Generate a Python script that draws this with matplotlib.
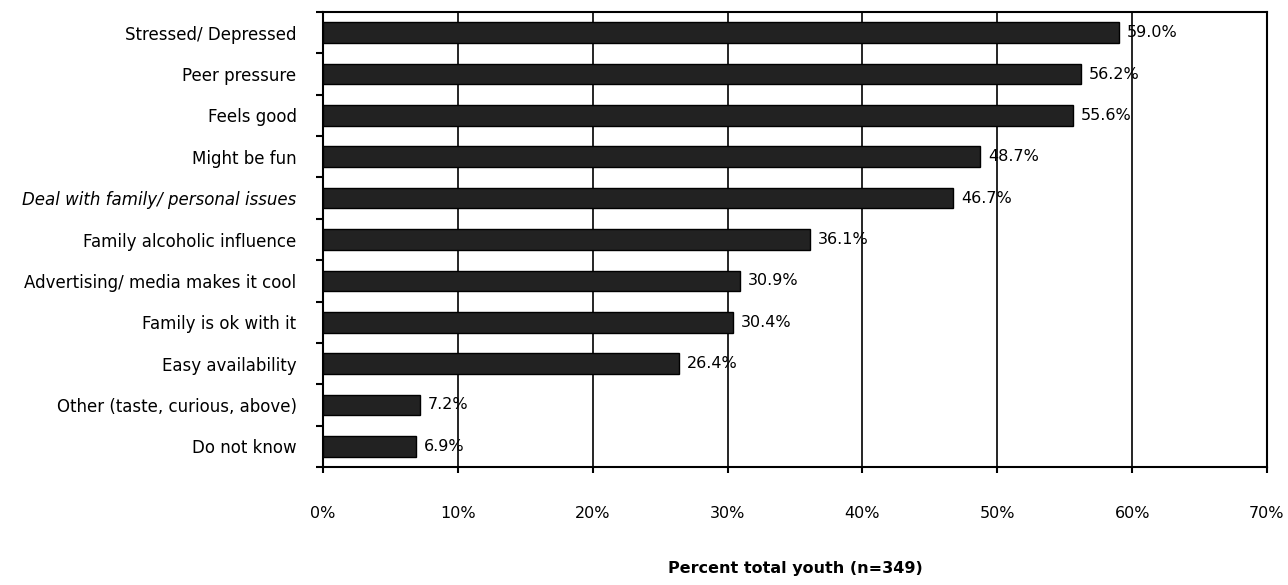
import matplotlib
matplotlib.use("Agg")
import matplotlib.pyplot as plt
from matplotlib.ticker import FixedLocator, NullFormatter

categories = [
    "Stressed/ Depressed",
    "Peer pressure",
    "Feels good",
    "Might be fun",
    "Deal with family/ personal issues",
    "Family alcoholic influence",
    "Advertising/ media makes it cool",
    "Family is ok with it",
    "Easy availability",
    "Other (taste, curious, above)",
    "Do not know",
]
values = [59.0, 56.2, 55.6, 48.7, 46.7, 36.1, 30.9, 30.4, 26.4, 7.2, 6.9]
xticks = [0, 10, 20, 30, 40, 50, 60, 70]

plt.rcParams["font.family"] = ["DejaVu Sans"]

fig = plt.figure(figsize=(12.88, 5.85), dpi=100)
ax = fig.add_axes([323 / 1288, 1 - 467 / 585, (1267 - 323) / 1288, (467 - 12) / 585])

n = len(categories)
ypos = list(range(n))
ax.barh(ypos, values, height=0.5, color="#222222", edgecolor="#000000",
        linewidth=1.0, zorder=3)

for y, v in zip(ypos, values):
    ax.text(v + 0.6, y, f"{v:.1f}%", va="center", ha="left", fontsize=11.5,
            zorder=4)

ax.set_ylim(n - 0.5, -0.5)
ax.set_xlim(0, 70)
ax.set_yticks(ypos)
ax.set_yticklabels(categories, fontsize=12)
for lbl in ax.get_yticklabels():
    if lbl.get_text().startswith("Deal"):
        lbl.set_style("italic")
ax.tick_params(axis="y", which="major", length=0, pad=19)
ax.yaxis.set_minor_locator(FixedLocator([i - 0.5 for i in range(n + 1)]))
ax.yaxis.set_minor_formatter(NullFormatter())
ax.tick_params(axis="y", which="minor", length=5, width=1.5, color="black")

ax.set_xticks(xticks)
ax.set_xticklabels([f"{t}%" for t in xticks], fontsize=11.5)
ax.tick_params(axis="x", length=4, width=1.5, pad=24)
ax.grid(axis="x", color="black", linewidth=1.2, zorder=0)
ax.set_axisbelow(True)

for s in ax.spines.values():
    s.set_linewidth(1.5)
    s.set_color("black")

ax.set_xlabel("Percent total youth (n=349)", fontsize=11.5, fontweight="bold",
              labelpad=29)

fig.savefig("out.png", dpi=100)
